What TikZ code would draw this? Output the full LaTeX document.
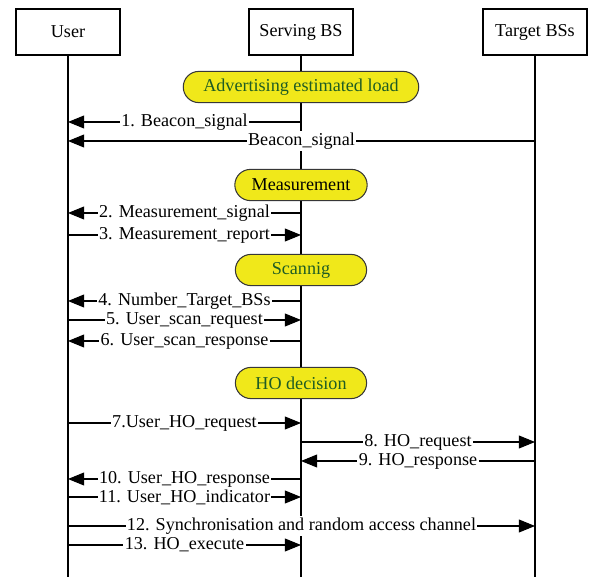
\documentclass[tikz,border=0pt]{standalone}
\usepackage{fontspec}
\setmainfont{Liberation Serif}
\usepackage{xcolor}
\usepackage{tikz}
\usetikzlibrary{positioning, shapes, arrows.meta}

\definecolor{phaseyellow}{RGB}{240,232,26}
\definecolor{phasegreen}{RGB}{30,92,36}
\definecolor{phaseborder}{RGB}{55,55,55}
\newcommand{\diagfont}{\fontsize{12.9}{15}\selectfont}

\begin{document}
\begin{tikzpicture}[x=0.025cm, y=-0.025cm, line width=0.75pt,
    actor/.style={draw, minimum width=2.6cm, minimum height=1.15cm, inner sep=0pt, font=\diagfont},
    phase/.style={draw=phaseborder, fill=phaseyellow, text=phasegreen, rounded corners=0.39cm,
      minimum width=3.28cm, minimum height=0.78cm, inner xsep=0.42cm, font=\diagfont},
    msg/.style={-{Triangle[length=0.4cm, width=0.32cm]}},
    lbl/.style={fill=white, inner sep=1pt, font=\diagfont}]
        \useasboundingbox (0,0) rectangle (594,577);

        % Heads and lifelines
        \foreach \id/\x/\name in {user/68/User, serv/301/Serving BS, targ/535/Target BSs} {
          \node[actor] (\id) at (\x,32) {\name};
          \coordinate (\id end) at (\x,577);
          \draw (\id) -- (\id end);
        }

        % Message rows
        \foreach \k/\y in {1/122, b/141, 2/213, 3/235, 4/301, 5/320, 6/341, 7/423, 8/442, 9/461, 10/479, 11/497, 12/526, 13/545} {
          \coordinate (u\k) at (68,\y);
          \coordinate (s\k) at (301,\y);
          \coordinate (t\k) at (535,\y);
        }

        % Phases
        \node[phase, inner xsep=0.5cm] (adv) at (301,87) {Advertising estimated load};
        \node[phase, text=black] (meas) at (301,185) {Measurement};
        \node[phase] (scan) at (301,270) {Scannig};
        \node[phase] (hodec) at (301,383) {HO decision};

        % Messages
        \draw[msg] (s1) -- node[lbl] {1. Beacon\_signal} (u1);
        \draw[msg] (tb) -- node[lbl] {Beacon\_signal} (ub);
        \draw[msg] (s2) -- node[lbl] {2. Measurement\_signal} (u2);
        \draw[msg] (u3) -- node[lbl] {3. Measurement\_report} (s3);
        \draw[msg] (s4) -- node[lbl] {4. Number\_Target\_BSs} (u4);
        \draw[msg] (u5) -- node[lbl] {5. User\_scan\_request} (s5);
        \draw[msg] (s6) -- node[lbl] {6. User\_scan\_response} (u6);
        \draw[msg] (u7) -- node[lbl] {7.User\_HO\_request} (s7);
        \draw[msg] (s8) -- node[lbl] {8. HO\_request} (t8);
        \draw[msg] (t9) -- node[lbl] {9. HO\_response} (s9);
        \draw[msg] (s10) -- node[lbl] {10. User\_HO\_response} (u10);
        \draw[msg] (u11) -- node[lbl] {11. User\_HO\_indicator} (s11);
        \draw[msg] (u12) -- node[lbl] {12. Synchronisation and random access channel} (t12);
        \draw[msg] (u13) -- node[lbl] {13. HO\_execute} (s13);
      \end{tikzpicture}
\end{document}
